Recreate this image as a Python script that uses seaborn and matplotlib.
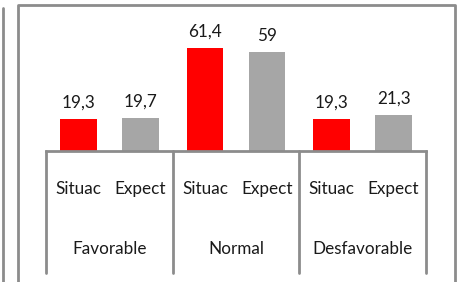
import matplotlib
matplotlib.use("Agg")
import matplotlib.pyplot as plt
import matplotlib.transforms as mtransforms
from matplotlib.lines import Line2D
import seaborn as sns
import pandas as pd

categories = ["Favorable", "Normal", "Desfavorable"]
series = ["Situac", "Expect"]
situac = [19.3, 61.4, 19.3]
expect = [19.7, 59.0, 21.3]

rows = []
for c, s, e in zip(categories, situac, expect):
    rows.append({"cat": c, "ser": "Situac", "val": s})
    rows.append({"cat": c, "ser": "Expect", "val": e})
df = pd.DataFrame(rows)

sns.set_theme(style="white")
plt.rcParams["font.family"] = ["Lato", "DejaVu Sans"]

W, H = 457, 282
fig = plt.figure(figsize=(W / 100, H / 100), dpi=100)
ax_left, ax_right, ax_bottom, ax_top = 46, 426, 151, 16
ax = fig.add_axes([ax_left / W, (H - ax_bottom) / H, (ax_right - ax_left) / W, (ax_bottom - ax_top) / H])

sns.barplot(data=df, x="cat", y="val", hue="ser", order=categories, hue_order=series,
            palette={"Situac": "#FF0000", "Expect": "#A6A6A6"}, width=0.976, gap=0.405,
            saturation=1, legend=False, ax=ax, edgecolor="none")

ax.set_xlim(-0.5, len(categories) - 0.5)
ax.set_ylim(0, 80.4)
ax.set_xlabel("")
ax.set_ylabel("")
ax.set_yticks([])
ax.set_xticks([])
for sp in ["top", "right", "left"]:
    ax.spines[sp].set_visible(False)
ax.spines["bottom"].set_color("#8c8c8c")
ax.spines["bottom"].set_linewidth(2)

txt_color = "#1a1a1a"
fs = 12.3
for cont in ax.containers:
    ax.bar_label(cont, labels=[f"{v:g}".replace(".", ",") for v in cont.datavalues],
                 padding=6, fontsize=fs, color=txt_color)

ax_h = ax_bottom - ax_top
trans = mtransforms.blended_transform_factory(ax.transData, ax.transAxes)
# tick labels under bars
for name, cont in zip(series, ax.containers):
    for p in cont.patches:
        cx = p.get_x() + p.get_width() / 2
        ax.text(cx, -(189 - ax_bottom) / ax_h, name, transform=trans, ha="center", va="center",
                fontsize=fs, color=txt_color)
# group labels and separators
for i, c in enumerate(categories):
    ax.text(i, -(249 - ax_bottom) / ax_h, c, transform=trans, ha="center", va="center",
            fontsize=fs, color=txt_color)
for b in range(len(categories) + 1):
    ax.add_line(Line2D([b - 0.5, b - 0.5], [0, -(273 - ax_bottom) / ax_h], transform=trans,
                       color="#8c8c8c", lw=2, clip_on=False))

# outer frames
fc = "#8c8c8c"
def fl(xs, ys):
    fig.add_artist(Line2D([x / W for x in xs], [1 - y / H for y in ys], color=fc, lw=2,
                          transform=fig.transFigure))
fl([3, 3], [8, 282])
fl([18, 18, 455, 455], [282, 5, 5, 282])

fig.savefig("out.png", dpi=100)
